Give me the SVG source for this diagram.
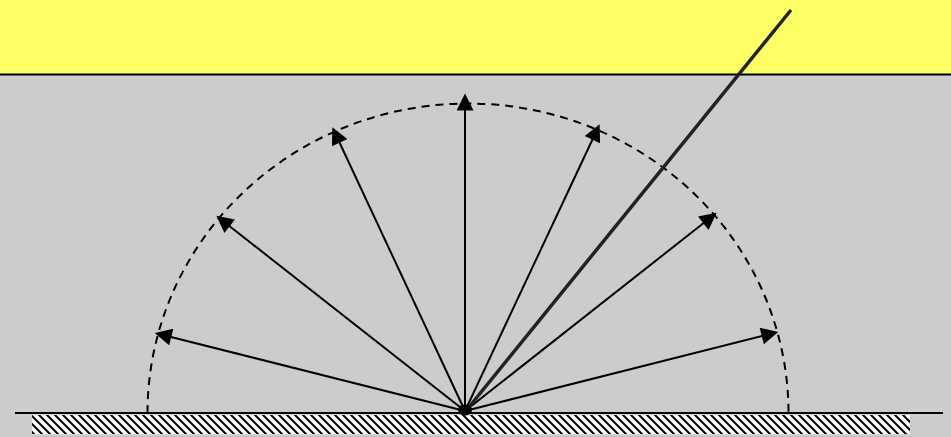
<svg xmlns="http://www.w3.org/2000/svg" width="951" height="437" viewBox="0 0 951 437">
<defs>
<marker id="ah" viewBox="0 0 10 10" refX="5" refY="5" markerWidth="18" markerHeight="17" markerUnits="userSpaceOnUse" orient="auto">
<path d="M0,0 L10,5 L0,10 z" fill="#000"/>
</marker>
<pattern id="hatch" patternUnits="userSpaceOnUse" width="8" height="8">
<rect width="8" height="8" fill="#fff"/>
<path d="M-2,-2 L10,10 M-2,6 L2,10 M6,-2 L10,2" stroke="#000" stroke-width="2"/>
</pattern>
<style>
.ray{stroke:#000;stroke-width:2;fill:none;marker-end:url(#ah)}
</style>
</defs>
<rect id="bg" x="0" y="0" width="951" height="437" fill="#cccccc"/>
<g id="sky">
<rect x="0" y="0" width="951" height="74.5" fill="#ffff66"/>
<line x1="0" y1="74.5" x2="951" y2="74.5" stroke="#000" stroke-width="2"/>
</g>
<g id="ground">
<rect x="32" y="415" width="878" height="19" fill="url(#hatch)"/>
<line x1="15" y1="413" x2="943" y2="413" stroke="#000" stroke-width="2"/>
</g>
<g id="hemisphere">
<path d="M147.5,413 A320.5,309.5 0 0 1 788.5,413" fill="none" stroke="#000" stroke-width="2" stroke-dasharray="8,6"/>
</g>
<g id="connectors">
<line class="ray" x1="465" y1="411" x2="163" y2="335"/>
<line class="ray" x1="465" y1="411" x2="223" y2="221"/>
<line class="ray" x1="465" y1="411" x2="336" y2="135"/>
<line class="ray" x1="465" y1="411" x2="465" y2="102"/>
<line class="ray" x1="465" y1="411" x2="596" y2="132"/>
<line class="ray" x1="465" y1="411" x2="710" y2="218"/>
<line class="ray" x1="465" y1="411" x2="770" y2="334"/>
</g>
<g id="incident">
<line x1="465" y1="412" x2="791" y2="10" stroke="#222" stroke-width="3.5"/>
</g>
<g id="origin">
<ellipse cx="465" cy="410" rx="7" ry="5.5" fill="#000"/>
</g>
</svg>
